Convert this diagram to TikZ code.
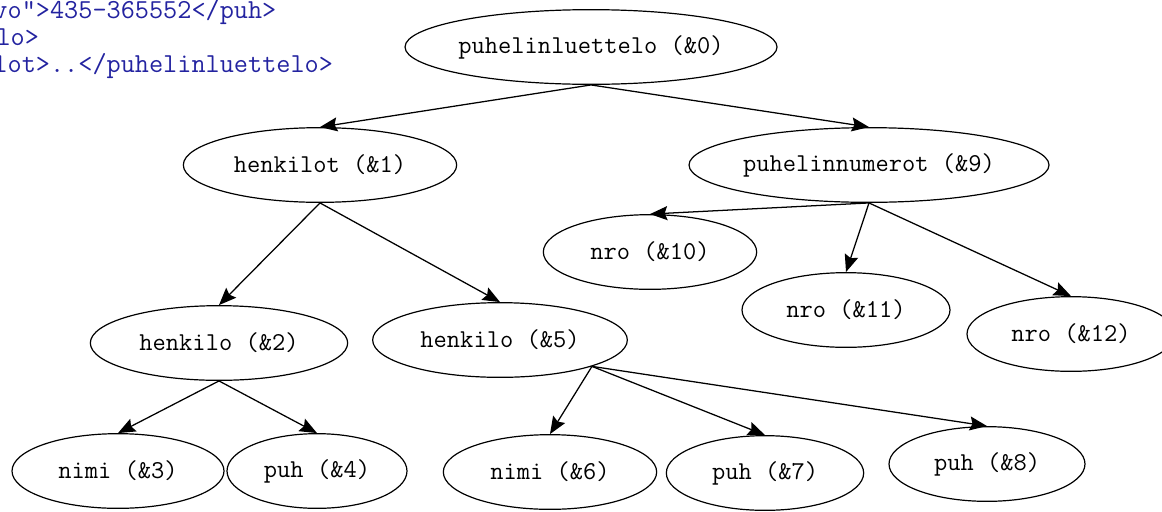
\documentclass[tikz,border=0pt]{standalone}
\usepackage{fontspec}
\usetikzlibrary{shapes.geometric,arrows.meta}

\tikzset{every picture/.style={line width=0.75pt}}
\tikzset{
	elem/.style={draw, ellipse, inner sep=0pt, minimum height=56pt, line width=0.9pt, font=\ttfamily\fontsize{19.3}{21}\selectfont},
	link/.style={-{Stealth[length=13pt,width=10.5pt,inset=2pt]}, line width=0.95pt},
	code/.style={anchor=base west, inner sep=0pt, text={rgb, 255:red, 35; green, 35; blue, 160 }, font=\ttfamily\fontsize{20.6}{22}\selectfont}
}

\begin{document}
\begin{tikzpicture}[x=0.75pt,y=0.75pt,yscale=-1,xscale=1]
	\useasboundingbox (0,0) rectangle (1162,511);

	\node [code] (src1) at (-7,18) {vo">435-365552</puh>};
	\node [code] (src2) at (-4,45) {lo>};
	\node [code] (src3) at (-7,72) {lot>..</puhelinluettelo>};

	\node [elem, minimum width=279pt, inner xsep=-4pt] (n0) at (591,47) {puhelinluettelo (\&0)};
	\node [elem, minimum width=205pt] (n1) at (320,165) {henkilot (\&1)};
	\node [elem, minimum width=270pt] (n9) at (869,165) {puhelinnumerot (\&9)};
	\node [elem, minimum width=160pt] (n10) at (650,252) {nro (\&10)};
	\node [elem, minimum width=156pt] (n11) at (846,310) {nro (\&11)};
	\node [elem, minimum width=156pt] (n12) at (1071,334) {nro (\&12)};
	\node [elem, minimum width=193pt] (n2) at (219,343) {henkilo (\&2)};
	\node [elem, minimum width=191pt] (n5) at (500,340) {henkilo (\&5)};
	\node [elem, minimum width=159pt] (n3) at (118,471) {nimi (\&3)};
	\node [elem, minimum width=135pt] (n4) at (317,471) {puh (\&4)};
	\node [elem, minimum width=160pt] (n6) at (550,472) {nimi (\&6)};
	\node [elem, minimum width=148pt] (n7) at (765,473) {puh (\&7)};
	\node [elem, minimum width=147pt] (n8) at (987,464) {puh (\&8)};

	\draw [link] (n0.south) -- (n1.north);
	\draw [link] (n0.south) -- (n9.north);
	\draw [link] (n1.south) -- (n2.north);
	\draw [link] (n1.south) -- (n5.north);
	\draw [link] (n9.south) -- (n10.north);
	\draw [link] (n9.south) -- (n11.north);
	\draw [link] (n9.south) -- (n12.north);
	\draw [link] (n2.south) -- (n3.north);
	\draw [link] (n2.south) -- (n4.north);
	\draw [link] (n5.-16) -- (n6.north);
	\draw [link] (n5.-16) -- (n7.north);
	\draw [link] (n5.-16) -- (n8.north);
\end{tikzpicture}
\end{document}
